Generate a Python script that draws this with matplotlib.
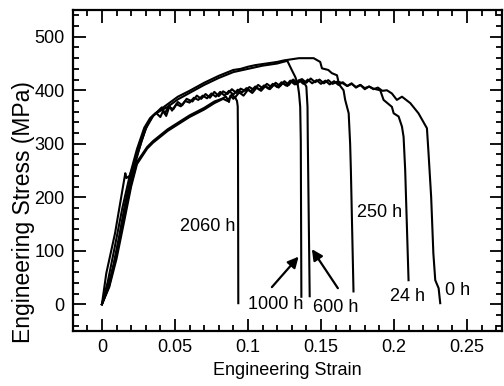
import matplotlib
matplotlib.use("Agg")
import matplotlib.pyplot as plt
from matplotlib.ticker import MultipleLocator

plt.rcParams['font.family'] = ['Liberation Sans', 'DejaVu Sans']

# ---- data (strain, stress in MPa) ----
h0_strain = [0, 0.003, 0.009, 0.016, 0.0168, 0.019, 0.024, 0.030, 0.035, 0.040, 0.046,
             0.052, 0.060, 0.070, 0.080, 0.090, 0.095, 0.100, 0.105, 0.110, 0.115,
             0.120, 0.125, 0.130, 0.135, 0.140, 0.145, 0.1495, 0.1507, 0.155, 0.1575,
             0.161, 0.162, 0.165, 0.168, 0.171, 0.174, 0.177, 0.180, 0.183, 0.186,
             0.189, 0.192, 0.1952, 0.1986, 0.202, 0.2055, 0.2112, 0.2168, 0.2226,
             0.2237, 0.2255, 0.227, 0.2283, 0.2306, 0.2317]
h0_stress = [0, 58, 133, 245, 236, 240, 278, 328, 352, 364, 376,
             388, 399, 414, 427, 438, 440, 444, 447, 449, 451,
             453, 456, 458, 460, 460, 460, 453, 441, 438, 432,
             428, 416, 413, 408, 412, 406, 410, 404, 407, 402,
             405, 399, 400, 394, 382, 388, 376, 357, 329,
             282, 200, 95, 45, 30, 2]

h24_strain = [0, 0.004, 0.008, 0.012, 0.016, 0.020, 0.025, 0.030, 0.034, 0.037,
              0.040, 0.042, 0.044, 0.046, 0.049, 0.051, 0.054, 0.057, 0.060, 0.063,
              0.066, 0.069, 0.072, 0.075, 0.078, 0.081, 0.084, 0.087, 0.090, 0.093,
              0.096, 0.099, 0.102, 0.105, 0.108, 0.111, 0.114, 0.117, 0.120, 0.123,
              0.126, 0.129, 0.132, 0.135, 0.138, 0.141, 0.144, 0.147, 0.150, 0.153,
              0.156, 0.159, 0.162, 0.165, 0.168, 0.171, 0.174, 0.177, 0.180, 0.183,
              0.186, 0.1906, 0.1929, 0.1986, 0.1998, 0.2032, 0.2055, 0.2066, 0.2077, 0.2100]
h24_stress = [0, 30, 75, 130, 190, 240, 290, 330, 350, 358,
              350, 362, 352, 368, 365, 374, 370, 380, 377, 386,
              382, 390, 385, 394, 388, 397, 390, 399, 392, 401,
              396, 404, 398, 407, 401, 409, 403, 412, 406, 415,
              409, 418, 411, 419, 412, 420, 413, 419, 412, 418,
              411, 417, 410, 415, 408, 413, 405, 410, 402, 407,
              403, 400, 382, 369, 357, 351, 332, 313, 251, 45]

h250_strain = [0, 0.005, 0.010, 0.014, 0.018, 0.022, 0.027, 0.031, 0.035, 0.038,
               0.041, 0.043, 0.046, 0.048, 0.052, 0.055, 0.058, 0.062, 0.065, 0.068,
               0.071, 0.074, 0.077, 0.080, 0.083, 0.086, 0.089, 0.092, 0.095, 0.098,
               0.101, 0.104, 0.107, 0.110, 0.113, 0.116, 0.119, 0.122, 0.125, 0.128,
               0.131, 0.134, 0.137, 0.140, 0.143, 0.146, 0.149, 0.152, 0.155, 0.158,
               0.161, 0.1655, 0.1666, 0.169, 0.170, 0.1705, 0.1723]
h250_stress = [0, 35, 95, 150, 205, 255, 305, 335, 352, 360,
               368, 356, 372, 362, 378, 372, 384, 379, 390, 384,
               393, 386, 397, 389, 398, 393, 402, 395, 403, 399,
               406, 401, 410, 404, 412, 406, 414, 408, 417, 410,
               420, 413, 421, 414, 422, 415, 420, 413, 419, 412,
               416, 400, 382, 357, 300, 251, 24]

h600_strain = [0, 0.005, 0.010, 0.015, 0.020, 0.024, 0.031, 0.035, 0.045, 0.060,
               0.070, 0.077, 0.083, 0.086, 0.089, 0.091, 0.094, 0.097, 0.100, 0.103,
               0.106, 0.109, 0.112, 0.115, 0.118, 0.121, 0.124, 0.127, 0.130, 0.133,
               0.136, 0.138, 0.140, 0.1408, 0.141, 0.1423]
h600_stress = [0, 32, 85, 152, 220, 262, 291, 302, 324, 350,
               364, 376, 384, 380, 392, 386, 396, 390, 401, 395,
               405, 399, 408, 402, 411, 405, 414, 408, 418, 411,
               420, 416, 407, 369, 307, 15]

h1000_strain = [0, 0.004, 0.009, 0.014, 0.019, 0.024, 0.029, 0.033, 0.037, 0.045,
                0.052, 0.060, 0.070, 0.080, 0.090, 0.095, 0.100, 0.105, 0.110, 0.115,
                0.120, 0.124, 0.127, 0.130, 0.1324, 0.134, 0.135, 0.1358, 0.1362, 0.1366]
h1000_stress = [0, 42, 110, 180, 240, 290, 330, 348, 357, 369,
                383, 395, 410, 423, 434, 437, 440, 443, 446, 448,
                450, 453, 455, 438, 425, 413, 394, 369, 306, 14]

h2060_strain = [0, 0.005, 0.010, 0.015, 0.020, 0.024, 0.031, 0.035, 0.045, 0.060,
                0.070, 0.077, 0.082, 0.085, 0.087, 0.088, 0.090, 0.091, 0.0925, 0.093,
                0.0932, 0.0934]
h2060_stress = [0, 36, 92, 160, 225, 266, 294, 305, 327, 353,
                367, 379, 384, 388, 378, 390, 384, 388, 380, 370,
                300, 2]

curves = [
    (h0_strain, h0_stress),
    (h24_strain, h24_stress),
    (h250_strain, h250_stress),
    (h600_strain, h600_stress),
    (h1000_strain, h1000_stress),
    (h2060_strain, h2060_stress),
]

labels = ["2060 h", "1000 h", "600 h", "250 h", "24 h", "0 h"]
label_x = [0.0915, 0.1189, 0.1604, 0.1900, 0.2090, 0.2439]
label_y = [145, 0, -6, 171, 15, 25]
label_ha = ["right", "center", "center", "center", "center", "center"]

arrow_tail = [(0.1164, 32), (0.1616, 30)]
arrow_head = [(0.1347, 89), (0.1438, 103)]

x_ticks = [0, 0.05, 0.1, 0.15, 0.2, 0.25]
x_ticklabels = ["0", "0.05", "0.1", "0.15", "0.2", "0.25"]
y_ticks = [0, 100, 200, 300, 400, 500]

# ---- figure ----
fig = plt.figure(figsize=(5.04, 3.86), dpi=100)
ax = fig.add_axes([0.1443, 0.1425, 0.8517, 0.8315])

for xs, ys in curves:
    ax.plot(xs, ys, color="black", lw=1.5, solid_joinstyle="round")

fs = 13
for t, x, y, ha in zip(labels, label_x, label_y, label_ha):
    ax.text(x, y, t, ha=ha, va="center", fontsize=fs)

for tail, head in zip(arrow_tail, arrow_head):
    ax.annotate("", xy=head, xytext=tail,
                arrowprops=dict(arrowstyle="-|>", color="black", lw=1.6,
                                mutation_scale=16, shrinkA=0, shrinkB=0))

ax.set_xlim(-0.02, 0.274)
ax.set_ylim(-50, 550)
ax.set_xticks(x_ticks)
ax.set_xticklabels(x_ticklabels)
ax.set_yticks(y_ticks)
ax.xaxis.set_minor_locator(MultipleLocator(0.01))
ax.yaxis.set_minor_locator(MultipleLocator(20))
ax.tick_params(which="both", direction="in", top=True, right=True,
               labelsize=fs, width=1.3, color="black")
ax.tick_params(which="major", length=9, pad=6)
ax.tick_params(which="minor", length=4)
for s in ax.spines.values():
    s.set_linewidth(1.6)

ax.set_xlabel("Engineering Strain", fontsize=fs, labelpad=4)
ax.set_ylabel("Engineering Stress (MPa)", fontsize=16.5)
ax.yaxis.set_label_coords(-0.088, 0.37)

fig.savefig("out.png", dpi=100)
